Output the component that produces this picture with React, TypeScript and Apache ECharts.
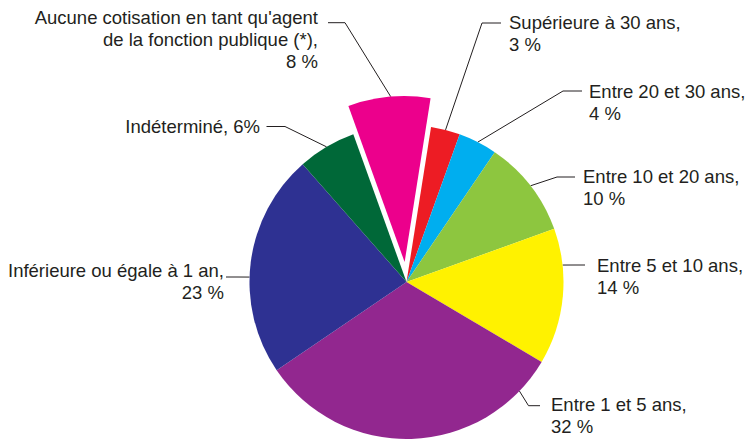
import React, { useEffect, useRef } from "react";
import * as echarts from "echarts";

// ---- data ----
const categories = [
  "Supérieure à 30 ans",
  "Entre 20 et 30 ans",
  "Entre 10 et 20 ans",
  "Entre 5 et 10 ans",
  "Entre 1 et 5 ans",
  "Inférieure ou égale à 1 an",
  "Indéterminé",
  "Aucune cotisation en tant qu'agent\nde la fonction publique (*)",
];
const values = [3, 4, 10, 14, 32, 23, 6, 8];
const colors = ["#ed1c24", "#00aeef", "#8dc63f", "#fff200", "#92278f", "#2e3192", "#006838", "#ec008c"];
const explodedIndex = 7;
const inlineLabelIndex = 6;

// ---- layout ----
const CX = 406.5;
const CY = 282;
const R = 157;
const R_EXPLODED = 166;
const OFFSET = 20;
const START_ANGLE = 81; // echarts degrees (90 = top)
const TEXT = "#231f20";

type Placement = {
  x: number;
  y: number;
  align: "left" | "right";
  lineAngle?: number; // clockwise degrees from top; default = slice middle
  elbow: [number, number];
  end: [number, number];
};

const placements: Placement[] = [
  { x: 509, y: 33.7, align: "left", elbow: [482, 23], end: [501, 23] },
  { x: 589, y: 102.7, align: "left", elbow: [563, 91], end: [582, 91] },
  { x: 583, y: 187.7, align: "left", elbow: [557, 177], end: [575, 177] },
  { x: 597, y: 276, align: "left", lineAngle: 83.8, elbow: [575, 265], end: [585, 265] },
  { x: 551, y: 415, align: "left", lineAngle: 134, elbow: [528.5, 405.7], end: [540, 405.7] },
  { x: 224, y: 281.5, align: "right", lineAngle: 271.8, elbow: [237, 277], end: [226, 277] },
  { x: 260, y: 126.7, align: "right", elbow: [285, 126.5], end: [266.5, 126.5] },
  { x: 318, y: 39.2, align: "right", lineAngle: 355.2, elbow: [345, 22.7], end: [328, 22.7] },
];

const total = values.reduce((a, b) => a + b, 0);
const firstDeg = 90 - START_ANGLE;
function midAngle(i: number) {
  let cum = 0;
  for (let k = 0; k < i; k++) cum += values[k];
  return firstDeg + (360 * (cum + values[i] / 2)) / total;
}
function arcPoint(cx: number, cy: number, r: number, deg: number): [number, number] {
  const a = (deg * Math.PI) / 180;
  return [cx + r * Math.sin(a), cy - r * Math.cos(a)];
}

export default function App() {
  const ref = useRef<HTMLDivElement>(null);
  useEffect(() => {
    if (!ref.current) return;
    const chart = echarts.init(ref.current, undefined, { renderer: "svg" });
    const transparent = "rgba(0,0,0,0)";

    const baseData = categories.map((name, i) => ({
      name,
      value: values[i],
      itemStyle: { color: i === explodedIndex ? transparent : colors[i] },
    }));
    const explodedData = categories.map((name, i) => ({
      name,
      value: values[i],
      selected: i === explodedIndex,
      itemStyle: { color: i === explodedIndex ? colors[i] : transparent },
    }));

    chart.setOption({
      animation: false,
      backgroundColor: "#ffffff",
      series: [
        {
          type: "pie",
          center: [CX, CY],
          radius: [0, R],
          startAngle: START_ANGLE,
          clockwise: true,
          avoidLabelOverlap: false,
          silent: true,
          emphasis: { disabled: true },
          data: baseData,
          label: {
            show: true,
            position: "outside",
            color: TEXT,
            fontFamily: "'Liberation Sans', Arial, sans-serif",
            fontSize: 18.5,
            lineHeight: 22,
            formatter: (p: any) =>
              p.dataIndex === inlineLabelIndex ? `${p.name}, ${p.value}%` : `${p.name},\n${p.value} %`,
          },
          labelLine: {
            show: true,
            lineStyle: { color: TEXT, width: 1 },
          },
          labelLayout: (params: any) => {
            const i = params.dataIndex;
            const pl = placements[i];
            let start: [number, number];
            if (i === explodedIndex) {
              const apex = arcPoint(CX, CY, OFFSET, midAngle(i));
              start = arcPoint(apex[0], apex[1], R_EXPLODED, pl.lineAngle ?? midAngle(i));
            } else {
              start = arcPoint(CX, CY, R, pl.lineAngle ?? midAngle(i));
            }
            return {
              x: pl.x,
              y: pl.y,
              align: pl.align,
              verticalAlign: "middle",
              labelLinePoints: [start, pl.elbow, pl.end],
            };
          },
        },
        {
          type: "pie",
          center: [CX, CY],
          radius: [0, R_EXPLODED],
          startAngle: START_ANGLE,
          clockwise: true,
          selectedMode: "single",
          selectedOffset: OFFSET,
          silent: true,
          emphasis: { disabled: true },
          select: { disabled: false },
          label: { show: false },
          labelLine: { show: false },
          data: explodedData,
        },
      ],
    });
    return () => chart.dispose();
  }, []);
  return (
    <div
      ref={ref}
      style={{ position: "fixed", left: 0, top: 0, width: 746, height: 441 }}
    />
  );
}
